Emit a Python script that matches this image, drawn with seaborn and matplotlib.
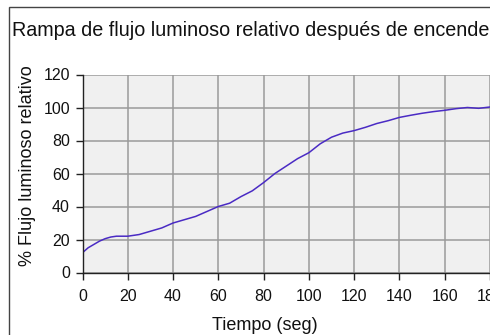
import numpy as np
import pandas as pd
import seaborn as sns
import matplotlib
matplotlib.use("Agg")
import matplotlib.pyplot as plt
from matplotlib.patches import Rectangle

# Relative luminous flux (%) after switch-on, sampled every 5 s
tiempo = [0, 2.5, 5, 7.5, 10, 12.5, 15, 20, 25, 30, 35, 40, 45, 50, 55, 60,
          65, 70, 75, 80, 85, 90, 95, 100, 105, 110, 115, 120, 125, 130,
          135, 140, 145, 150, 155, 160, 165, 170, 175, 180]
flujo = [12, 15, 17, 19, 20.5, 21.5, 22, 22, 23, 25, 27, 30, 32, 34, 37, 40,
         42, 46, 49.5, 54.5, 60, 64.5, 69, 72.6, 78, 82, 84.5, 86, 88, 90.3,
         92, 94, 95.3, 96.5, 97.5, 98.3, 99.3, 100, 99.5, 100.3]
x_ticks = [0, 20, 40, 60, 80, 100, 120, 140, 160, 180]
y_ticks = [0, 20, 40, 60, 80, 100, 120]

titulo = "Rampa de flujo luminoso relativo después de encender"
etiqueta_x = "Tiempo (seg)"
etiqueta_y = "% Flujo luminoso relativo"

sns.set_style("whitegrid", {
    "axes.facecolor": "#f0f0f0",
    "grid.color": "#9a9a9a",
    "axes.edgecolor": "#9a9a9a",
})
plt.rcParams["font.family"] = ["Liberation Sans", "DejaVu Sans"]

W, H = 490, 335
fig = plt.figure(figsize=(W / 100, H / 100), dpi=100)
fig.patch.set_facecolor("white")

left, right, top, bottom = 82.5, 490, 74.5, 272.5
ax = fig.add_axes([left / W, 1 - bottom / H, (right - left) / W, (bottom - top) / H])

df = pd.DataFrame({"t": tiempo, "f": flujo})
sns.lineplot(data=df, x="t", y="f", ax=ax, color="#4a2bc4", linewidth=1.1)

ax.set_xlim(0, 180)
ax.set_ylim(0, 120)
ax.set_xticks(x_ticks)
ax.set_yticks(y_ticks)
ax.grid(True, color="#9a9a9a", linewidth=1.1)
ax.set_axisbelow(True)

for side in ("left", "bottom"):
    ax.spines[side].set_color("#222222")
    ax.spines[side].set_linewidth(1.0)
for side in ("top", "right"):
    ax.spines[side].set_visible(False)

ax.tick_params(axis="both", which="major", length=5, width=1, color="#222222",
               labelsize=11.5, labelcolor="#111111", left=True, bottom=True)
ax.tick_params(axis="x", pad=7)
ax.tick_params(axis="y", pad=4)

ax.set_xlabel("")
ax.set_ylabel("")
fig.text(265 / W, 1 - 325 / H, etiqueta_x, ha="center", va="center",
         fontsize=13, color="#111111")
fig.text(28 / W, 1 - 166 / H, etiqueta_y, ha="center", va="center",
         rotation=90, fontsize=13, color="#111111")
fig.text(11.5 / W, 1 - 31 / H, titulo, ha="left", va="center",
         fontsize=14.2, color="#111111")

# Outer frame around the chart area
fig.patches.append(Rectangle((8.5 / W, -0.1), 1.2, 1 - 7.5 / H + 0.1,
                             transform=fig.transFigure, fill=False,
                             edgecolor="#444444", linewidth=1.0))

fig.savefig("out.png", dpi=100, facecolor="white")
